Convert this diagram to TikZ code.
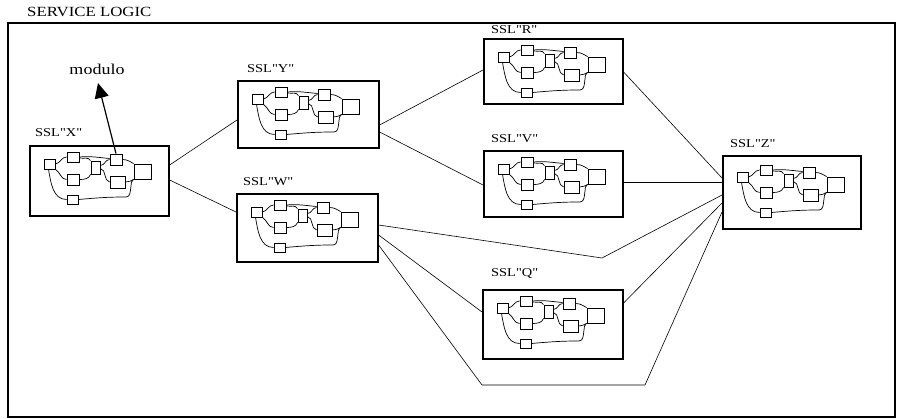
\documentclass[tikz,border=0pt]{standalone}
\usepackage{fontspec}
\setmainfont{Liberation Serif}
\newfontfamily\scanfont{Liberation Serif}[FakeStretch=1.2]
\usetikzlibrary{calc,arrows.meta}
\tikzset{
  sslbox/.style={draw, line width=1.6pt, minimum width=139pt, minimum height=68pt, anchor=north west, inner sep=0pt},
  ssllabel/.style={anchor=south west, inner sep=0pt, font=\scanfont\fontsize{12}{14}\selectfont},
  mini/.style={draw, line width=0.8pt, inner sep=0pt},
  minil/.style={line width=0.7pt},
  conn/.style={line width=0.6pt},
  pics/ssl/.style={code={
    \node[mini, minimum width=11pt, minimum height=10pt] (-n1) at (20.5,19) {};
    \node[mini, minimum width=12pt, minimum height=10pt] (-n2) at (44,12) {};
    \node[mini, minimum width=12pt, minimum height=11pt] (-n3) at (44,34.5) {};
    \node[mini, minimum width=9pt, minimum height=13pt] (-n4) at (66.5,22.5) {};
    \node[mini, minimum width=12pt, minimum height=11pt] (-n5) at (87,14.5) {};
    \node[mini, minimum width=15pt, minimum height=12pt] (-n6) at (88.5,37) {};
    \node[mini, minimum width=17pt, minimum height=15pt] (-n7) at (113.5,26.5) {};
    \node[mini, minimum width=11pt, minimum height=9pt] (-n8) at (43.5,54.5) {};
    \draw[minil] (-n1.east) to[out=10,in=180] (-n2.west);
    \draw[minil] (-n2.east) to[out=5,in=175] ($(-n5.west)+(0,-1)$);
    \draw[minil] ($(-n2.east)+(0,1)$) to[out=-10,in=120] (-n4.north west);
    \draw[minil] (-n1.south east) to[out=-30,in=180] (-n3.west);
    \draw[minil] ($(-n1.south)+(-1,0)$) to[out=-80,in=180] (-n8.west);
    \draw[minil] (-n3.east) to[out=0,in=-110] (-n4.south west);
    \draw[minil] ($(-n4.east)+(0,-2)$) to[out=0,in=180] (-n5.west);
    \draw[minil] ($(-n4.east)+(0,1)$) to[out=-10,in=170] (-n6.west);
    \draw[minil] (-n5.east) to[out=0,in=150] (-n7.north west);
    \draw[minil] (-n6.east) to[out=10,in=-140] (-n7.south west);
    \draw[minil] (-n8.east) to[out=5,in=180] (97,52) to[out=0,in=-100] (102,41) to[out=80,in=-160] (-n7.south west);
  }}
}
\begin{document}
\begin{tikzpicture}[x=1pt,y=-1pt]
\useasboundingbox (0,0) rectangle (897,419);
% frame
\draw[line width=1.8pt] (8,23) rectangle (895,417);
\node[anchor=base west, inner sep=0pt, font=\scanfont\fontsize{14}{16}\selectfont] (title) at (27,17) {SERVICE LOGIC};
% boxes
\node[sslbox, minimum height=70pt] (X) at (29,145) {};
\node[sslbox, minimum width=141pt, minimum height=67pt] (Y) at (237,80) {};
\node[sslbox, minimum width=141pt] (W) at (236,193) {};
\node[sslbox, minimum height=65pt] (R) at (483,38) {};
\node[sslbox, minimum height=66pt] (V) at (483,150) {};
\node[sslbox, minimum width=140pt, minimum height=69pt] (Q) at (482,289) {};
\node[sslbox, minimum width=138pt, minimum height=73pt] (Z) at (722,155) {};
% labels
\node[ssllabel] (lX) at ($(X.north west)+(6,-8)$) {SSL"X"};
\node[ssllabel] (lY) at ($(Y.north west)+(10,-7)$) {SSL"Y"};
\node[ssllabel] (lW) at ($(W.north west)+(7,-7)$) {SSL"W"};
\node[ssllabel] (lR) at ($(R.north west)+(8,-4)$) {SSL"R"};
\node[ssllabel] (lV) at ($(V.north west)+(8,-7)$) {SSL"V"};
\node[ssllabel] (lQ) at ($(Q.north west)+(9,-10)$) {SSL"Q"};
\node[ssllabel] (lZ) at ($(Z.north west)+(8,-7)$) {SSL"Z"};
% mini diagrams
\pic (mX) at (X.north west) {ssl};
\pic (mY) at (Y.north west) {ssl};
\pic (mW) at (W.north west) {ssl};
\pic (mR) at (R.north west) {ssl};
\pic (mV) at (V.north west) {ssl};
\pic (mQ) at (Q.north west) {ssl};
\pic (mZ) at ($(Z.north west)+(0,3)$) {ssl};
% modulo
\node[anchor=base, inner sep=0pt, font=\scanfont\fontsize{15}{17}\selectfont] (mod) at (97,75) {modulo};
\coordinate (tip) at (98,83);
\draw[line width=1.2pt, -{Triangle[length=15pt,width=14pt]}] (mX-n5.north) -- (tip);
% connectors
\draw[conn] ($(X.north east)+(0,20)$) -- ($(Y.north west)+(0,40)$);
\draw[conn] ($(X.north east)+(0,35)$) -- ($(W.north west)+(0,19)$);
\draw[conn] ($(Y.north east)+(0,45)$) -- ($(R.north west)+(0,32)$);
\draw[conn] ($(Y.north east)+(0,52)$) -- ($(V.north west)+(0,35)$);
\draw[conn] ($(R.north east)+(0,34)$) -- ($(Z.north west)+(0,23)$);
\draw[conn] ($(V.north east)+(0,32)$) -- ($(Z.north west)+(0,27)$);
\coordinate (b1) at (602,258);
\draw[conn] ($(W.north east)+(0,32)$) -- (b1) -- ($(Z.north west)+(0,40)$);
\draw[conn] ($(W.north east)+(0,42)$) -- ($(Q.north west)+(0,23)$);
\coordinate (b2) at (482,385);
\coordinate (b3) at (645,385);
\draw[conn] ($(W.north east)+(0,52)$) -- (b2) -- (b3) -- ($(Z.north west)+(0,57)$);
\draw[conn] ($(Q.north east)+(0,14)$) -- ($(Z.north west)+(0,48)$);
\end{tikzpicture}
\end{document}
